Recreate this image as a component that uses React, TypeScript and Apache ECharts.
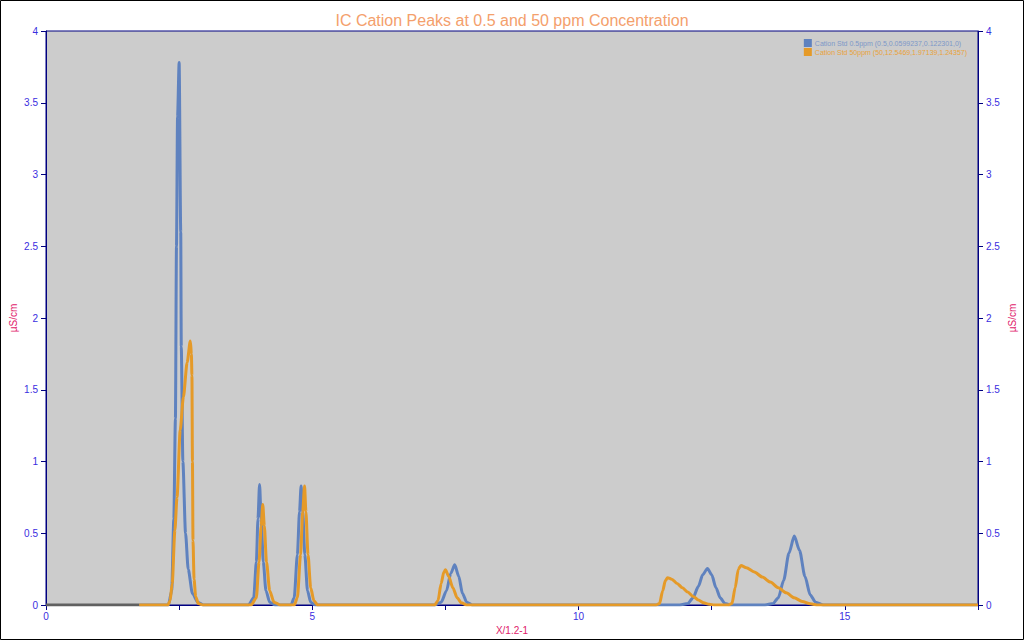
import React, { useEffect, useRef } from "react";
import * as echarts from "echarts";

const TITLE = "IC Cation Peaks at 0.5 and 50 ppm Concentration";
const SERIES_NAMES = [
  "Cation Std 0.5ppm (0.5,0.0599237,0.122301,0)",
  "Cation Std 50ppm (50,12.5469,1.97139,1.24357)",
];
const X_NAME = "X/1.2-1";
const Y_NAME = "µS/cm";

const baseline: number[][] = [
  [0, 0],
  [1.75, 0],
];

const std05: number[][] = [
  [1.75, 0], [2.3, 0], [2.36, 0.1], [2.4, 0.6], [2.43, 1.3], [2.45, 2.5], [2.47, 3.4],
  [2.5, 3.78], [2.53, 2.6], [2.54, 1.8], [2.57, 1.0], [2.62, 0.5], [2.67, 0.25],
  [2.75, 0.08], [2.85, 0.02], [2.95, 0],
  [3.8, 0], [3.9, 0.05], [3.95, 0.3], [3.98, 0.6], [4.01, 0.84], [4.04, 0.6],
  [4.08, 0.3], [4.13, 0.1], [4.2, 0.02], [4.3, 0],
  [4.6, 0], [4.66, 0.05], [4.72, 0.35], [4.76, 0.65], [4.79, 0.83], [4.82, 0.65],
  [4.86, 0.35], [4.91, 0.1], [4.97, 0.02], [5.05, 0],
  [7.3, 0], [7.42, 0.02], [7.52, 0.1], [7.6, 0.22], [7.675, 0.28], [7.75, 0.2],
  [7.82, 0.08], [7.9, 0.02], [8.0, 0],
  [11.9, 0], [12.05, 0.01], [12.15, 0.05], [12.25, 0.13], [12.33, 0.21], [12.42, 0.255],
  [12.5, 0.21], [12.58, 0.12], [12.66, 0.05], [12.75, 0.01], [12.85, 0],
  [13.5, 0], [13.65, 0.01], [13.75, 0.05], [13.85, 0.17], [13.95, 0.36], [14.05, 0.48],
  [14.15, 0.38], [14.25, 0.2], [14.35, 0.07], [14.45, 0.02], [14.6, 0],
  [17.5, 0],
];

const std50: number[][] = [
  [1.75, 0], [2.29, 0], [2.33, 0.03], [2.37, 0.15], [2.42, 0.52], [2.46, 0.75],
  [2.52, 1.22], [2.58, 1.45], [2.65, 1.69], [2.71, 1.84], [2.73, 1.75], [2.74, 1.6],
  [2.75, 1.0], [2.76, 0.45], [2.78, 0.18], [2.81, 0.06], [2.86, 0.01], [2.95, 0],
  [3.85, 0], [3.95, 0.05], [4.0, 0.3], [4.04, 0.55], [4.07, 0.7], [4.1, 0.55],
  [4.14, 0.3], [4.2, 0.1], [4.28, 0.02], [4.4, 0],
  [4.66, 0], [4.72, 0.05], [4.78, 0.35], [4.82, 0.65], [4.855, 0.83], [4.88, 0.65],
  [4.92, 0.35], [4.97, 0.12], [5.03, 0.03], [5.1, 0],
  [7.3, 0], [7.36, 0.03], [7.42, 0.15], [7.47, 0.23], [7.5, 0.245], [7.56, 0.2],
  [7.64, 0.12], [7.72, 0.05], [7.8, 0.015], [7.9, 0],
  [11.45, 0], [11.52, 0.01], [11.58, 0.1], [11.63, 0.17], [11.67, 0.19], [11.75, 0.18],
  [11.85, 0.15], [11.95, 0.12], [12.05, 0.09], [12.15, 0.06], [12.25, 0.035],
  [12.35, 0.015], [12.45, 0.005], [12.55, 0],
  [12.8, 0], [12.88, 0.01], [12.94, 0.12], [13.0, 0.25], [13.05, 0.275], [13.15, 0.26],
  [13.3, 0.23], [13.45, 0.195], [13.6, 0.16], [13.75, 0.12], [13.9, 0.085],
  [14.05, 0.05], [14.2, 0.025], [14.35, 0.008], [14.5, 0],
  [17.5, 0],
];

const BLUE = "#5f82bf";
const ORANGE = "#e59a28";
const NAVY = "#000080";
const LABEL = "#3a2ee0";
const NAME_COLOR = "#e0206a";
const FONT = "'Liberation Sans', Arial, sans-serif";

export default function App() {
  const ref = useRef<HTMLDivElement>(null);
  useEffect(() => {
    document.body.style.margin = "0";
    const chart = echarts.init(ref.current!, null, { renderer: "svg" });
    const yAxisCommon = {
      type: "value",
      min: 0,
      max: 4,
      interval: 0.5,
      name: Y_NAME,
      nameLocation: "middle",
      nameRotate: 90,
      nameMoveOverlap: false,
      nameTextStyle: { color: NAME_COLOR, fontSize: 10, fontFamily: FONT },
      axisLine: { show: true, lineStyle: { color: NAVY, width: 1 } },
      axisTick: { show: true, length: 5, lineStyle: { color: NAVY } },
      axisLabel: { color: LABEL, fontSize: 10, fontFamily: FONT, margin: 8 },
      splitLine: { show: false },
    };
    const lineCommon = {
      type: "line",
      showSymbol: false,
      smooth: 0.25,
      smoothMonotone: "x",
    };
    chart.setOption({
      animation: false,
      backgroundColor: "#ffffff",
      title: {
        text: TITLE,
        left: "center",
        top: 7,
        textStyle: { color: "#f4a06c", fontSize: 16, fontWeight: "normal", fontFamily: FONT },
      },
      graphic: [
        {
          type: "rect",
          shape: { x: 0.5, y: 0.5, width: 1023, height: 639 },
          style: { fill: "none", stroke: "#000000", lineWidth: 1 },
          silent: true,
        },
      ],
      legend: {
        orient: "vertical",
        right: 52,
        top: 34,
        itemWidth: 8,
        itemHeight: 8,
        itemGap: 1,
        icon: "rect",
        textStyle: { fontSize: 7, fontFamily: FONT, padding: [0, 0, 0, -2] },
        data: [
          { name: SERIES_NAMES[0], textStyle: { color: "#7d98c8" } },
          { name: SERIES_NAMES[1], textStyle: { color: "#e9a23a" } },
        ],
      },
      grid: {
        left: 46,
        right: 46,
        top: 31,
        bottom: 35,
        outerBoundsMode: "none",
        containLabel: false,
        show: true,
        backgroundColor: "#cccccc",
        borderColor: NAVY,
        borderWidth: 1,
      },
      xAxis: {
        type: "value",
        min: 0,
        max: 17.5,
        interval: 2.5,
        name: X_NAME,
        nameLocation: "middle",
        nameGap: 20,
        nameTextStyle: { color: NAME_COLOR, fontSize: 10, fontFamily: FONT },
        axisLine: { show: true, lineStyle: { color: NAVY } },
        axisTick: { show: true, length: 5, lineStyle: { color: NAVY } },
        axisLabel: {
          color: LABEL,
          fontSize: 10,
          fontFamily: FONT,
          margin: 6,
          formatter: (v: number) => (v % 5 === 0 ? String(v) : ""),
        },
        splitLine: { show: false },
      },
      yAxis: [
        { ...yAxisCommon, position: "left", nameGap: 28 },
        { ...yAxisCommon, position: "right", nameGap: 29 },
      ],
      series: [
        {
          ...lineCommon,
          name: "baseline",
          data: baseline,
          lineStyle: { color: "#606060", width: 3 },
          itemStyle: { color: "#606060" },
        },
        {
          ...lineCommon,
          name: SERIES_NAMES[0],
          data: std05,
          lineStyle: { color: BLUE, width: 3 },
          itemStyle: { color: BLUE },
        },
        {
          ...lineCommon,
          name: SERIES_NAMES[1],
          data: std50,
          lineStyle: { color: ORANGE, width: 3 },
          itemStyle: { color: ORANGE },
        },
      ],
    });
    return () => chart.dispose();
  }, []);
  return <div ref={ref} style={{ width: 1024, height: 640 }} />;
}
